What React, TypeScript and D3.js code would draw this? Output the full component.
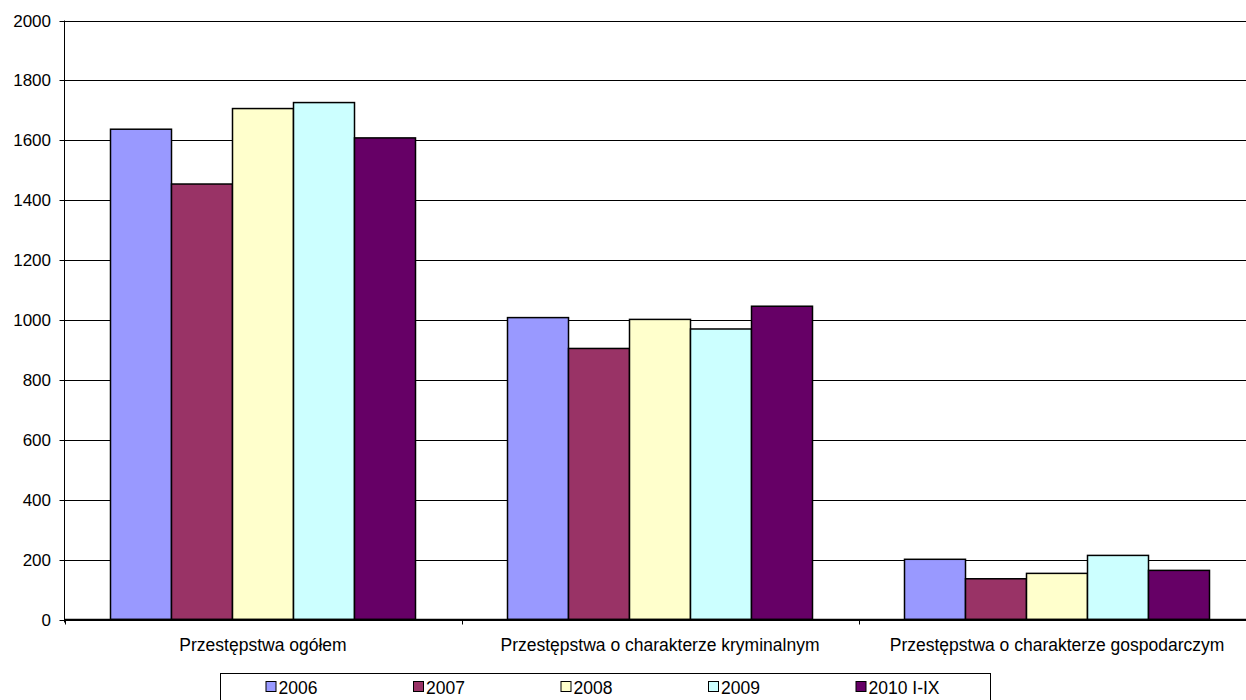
import React from "react";
import * as d3 from "d3";

const categories = [
  "Przestępstwa ogółem",
  "Przestępstwa o charakterze kryminalnym",
  "Przestępstwa o charakterze gospodarczym",
];
const seriesNames = ["2006", "2007", "2008", "2009", "2010 I-IX"];
const seriesColors = ["#9999FF", "#993366", "#FFFFCC", "#CCFFFF", "#660066"];
const values2006 = [1637, 1008, 201];
const values2007 = [1454, 905, 136];
const values2008 = [1706, 1002, 154];
const values2009 = [1726, 970, 214];
const values2010 = [1608, 1046, 164];
const yTicks = [0, 200, 400, 600, 800, 1000, 1200, 1400, 1600, 1800, 2000];

const seriesValues = [values2006, values2007, values2008, values2009, values2010];

const W = 1246;
const H = 700;
const plotLeft = 64.5;
const plotRight = 1255.5;
const plotTop = 20.5;
const plotBottom = 619.5;
const FONT = "'Liberation Sans', Arial, sans-serif";

export default function App() {
  const y = d3.scaleLinear().domain([0, 2000]).range([plotBottom, plotTop]);
  const x0 = d3.scaleBand<string>().domain(categories).range([plotLeft, plotRight]).padding(0);
  const bw = x0.bandwidth();
  const gap = bw * (92 / 397) / 2;
  const x1 = d3
    .scaleBand<string>()
    .domain(seriesNames)
    .range([gap, bw - gap])
    .padding(0);

  const legendLeft = 220.5;
  const legendRight = 990.5;
  const legendStep = 147.5;

  return (
    <div style={{ position: "absolute", left: 0, top: 0 }}>
      <svg width={W} height={H} style={{ display: "block" }} fontFamily={FONT}>
        <rect x={0} y={0} width={W} height={H} fill="#fff" />
        {/* gridlines */}
        {yTicks.map((t) => (
          <line
            key={"g" + t}
            x1={plotLeft}
            x2={plotRight}
            y1={Math.round(y(t)) + 0.5}
            y2={Math.round(y(t)) + 0.5}
            stroke="#000"
            strokeWidth={1}
          />
        ))}
        {/* bars */}
        {categories.map((c, ci) =>
          seriesNames.map((s, si) => {
            const v = seriesValues[si][ci];
            const bx = (x0(c) as number) + (x1(s) as number);
            return (
              <rect
                key={c + s}
                x={bx}
                y={y(v)}
                width={x1.bandwidth()}
                height={y(0) - y(v)}
                fill={seriesColors[si]}
                stroke="#000"
                strokeWidth={1.5}
              />
            );
          })
        )}
        {/* y axis */}
        <line x1={plotLeft} x2={plotLeft} y1={plotTop} y2={plotBottom + 3} stroke="#000" />
        {yTicks.map((t) => (
          <g key={"t" + t}>
            <line
              x1={plotLeft - 5}
              x2={plotLeft}
              y1={Math.round(y(t)) + 0.5}
              y2={Math.round(y(t)) + 0.5}
              stroke="#000"
            />
            <text x={51} y={y(t) + 6} textAnchor="end" fontSize={17} fill="#000">
              {t}
            </text>
          </g>
        ))}
        {/* x axis */}
        <line x1={plotLeft} x2={plotRight} y1={plotBottom} y2={plotBottom} stroke="#000" strokeWidth={1.5} />
        {categories.map((c, ci) => (
          <line
            key={"xt" + ci}
            x1={Math.round(x0(c) as number) + 0.5}
            x2={Math.round(x0(c) as number) + 0.5}
            y1={plotBottom}
            y2={plotBottom + 5}
            stroke="#000"
          />
        ))}
        {categories.map((c) => (
          <text
            key={"cl" + c}
            x={(x0(c) as number) + bw / 2}
            y={651}
            textAnchor="middle"
            fontSize={17.5}
            fill="#000"
          >
            {c}
          </text>
        ))}
        {/* legend */}
        <rect
          x={legendLeft}
          y={673.5}
          width={legendRight - legendLeft}
          height={40}
          fill="#fff"
          stroke="#000"
          strokeWidth={1}
        />
        {seriesNames.map((s, si) => {
          const lx = legendLeft + 45 + si * legendStep;
          return (
            <g key={"lg" + s}>
              <rect x={lx + 0.5} y={681.5} width={10} height={10} fill={seriesColors[si]} stroke="#000" strokeWidth={1} />
              <text x={lx + 13} y={693.5} fontSize={17.5} fill="#000">
                {s}
              </text>
            </g>
          );
        })}
      </svg>
    </div>
  );
}
